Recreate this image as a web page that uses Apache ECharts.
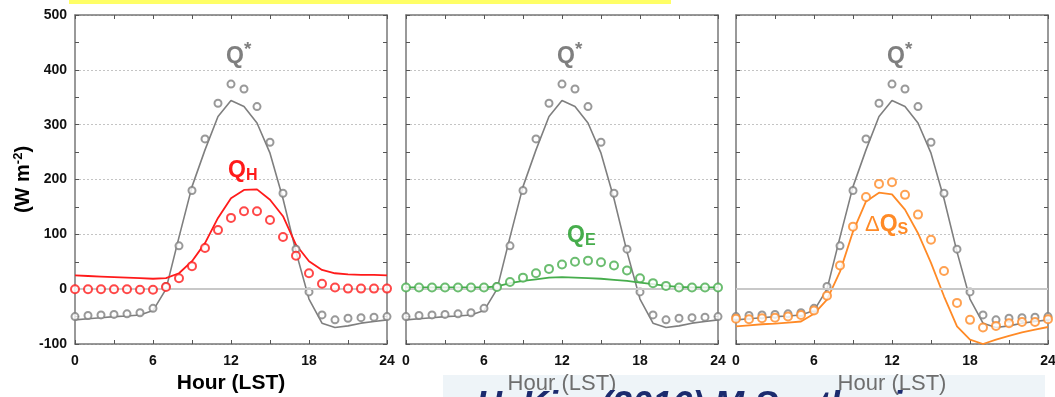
<!DOCTYPE html>
<html>
<head>
<meta charset="utf-8">
<script src="https://cdn.jsdelivr.net/npm/echarts@6/dist/echarts.min.js"></script>
<style>
  html, body { margin: 0; padding: 0; background: #fff; }
  #chart { width: 1055px; height: 397px; }
</style>
</head>
<body>
<div id="chart"></div>
<script>
// hours of the day (LST)
const hours = [0, 1, 2, 3, 4, 5, 6, 7, 8, 9, 10, 11, 12, 13, 14, 15, 16, 17, 18, 19, 20, 21, 22, 23, 24];

// net radiation Q* (same in every panel)
const qStarObs = [-50, -48, -47, -46, -45, -43, -35, 5, 79, 180, 274, 339, 374, 365, 333, 268, 175, 73, -5, -47, -56, -53, -52, -51, -50];
const qStarMod = [-56, -54, -52, -50, -49, -47, -39, 0, 95, 187, 254, 315, 344, 333, 303, 248, 165, 68, -18, -62, -70, -67, -62, -59, -56];

// sensible heat flux QH
const qhObs = [0, 0, 0, 0, 0, -1, -1, 4, 20, 42, 75, 108, 130, 142, 142, 126, 95, 61, 29, 10, 3, 1, 1, 1, 1];
const qhMod = [25, 24, 23, 22, 21, 20, 19, 20, 29, 51, 84, 130, 166, 181, 182, 163, 133, 81, 51, 35, 29, 27, 26, 26, 25];

// latent heat flux QE
const qeObs = [3, 3, 3, 3, 3, 3, 3, 4, 13, 21, 29, 37, 45, 50, 52, 49, 43, 34, 20, 11, 6, 3, 3, 3, 3];
const qeMod = [3, 3, 3, 3, 3, 3, 3, 5, 11, 15, 18, 21, 22, 21, 20, 19, 17, 15, 12, 9, 6, 4, 3, 3, 3];

// storage heat flux dQS
const dqsObs = [-54, -55, -53, -52, -50, -47, -39, -12, 43, 114, 168, 192, 195, 172, 136, 90, 33, -25, -56, -70, -67, -62, -60, -60, -55];
const dqsMod = [-68, -66, -64, -63, -61, -59, -45, -19, 32, 105, 160, 176, 173, 145, 102, 48, -13, -68, -92, -100, -92, -85, -79, -74, -69];

const yTicks = [-100, 0, 100, 200, 300, 400, 500];
const xTicks = [0, 6, 12, 18, 24];

const GREY = '#7f7f7f';
const panelColors = ['#ff1a1a', '#46ad4c', '#ff8a26'];
const panelObs = [qhObs, qeObs, dqsObs];
const panelMod = [qhMod, qeMod, dqsMod];
const lefts = [75, 406, 736];
const FONT = 'Liberation Sans';

function pairs(vals) {
  return hours.map((h, i) => [h, vals[i]]);
}

const chart = echarts.init(document.getElementById('chart'), null, { renderer: 'canvas' });

const grids = [], xAxes = [], yAxes = [], series = [];

lefts.forEach(function (left, i) {
  grids.push({ left: left, top: 15, width: 312, height: 329, outerBoundsMode: 'none' });

  const frameLine = { show: true, onZero: false, lineStyle: { color: '#777', width: 1.5 } };
  const tick = { show: true, inside: true, length: 4, lineStyle: { color: '#555' } };
  const minor = { show: true, splitNumber: 2, length: 4, lineStyle: { color: '#555' } };

  // bottom x axis
  xAxes.push({
    gridIndex: i, type: 'value', position: 'bottom',
    min: xTicks[0], max: xTicks[xTicks.length - 1], interval: 6,
    axisLine: frameLine, axisTick: tick, minorTick: minor,
    splitLine: { show: false },
    axisLabel: { color: '#111', fontFamily: FONT, fontWeight: 'bold', fontSize: 14, margin: 10 },
    name: 'Hour (LST)', nameLocation: 'middle', nameGap: 27,
    nameTextStyle: i === 0
      ? { color: '#000', fontFamily: FONT, fontWeight: 'bold', fontSize: 21 }
      : { color: '#6e6e6e', fontFamily: FONT, fontWeight: 'normal', fontSize: 22 }
  });
  // top x axis (frame)
  xAxes.push({
    gridIndex: i, type: 'value', position: 'top',
    min: 0, max: 24, interval: 6,
    axisLine: frameLine, axisTick: tick, minorTick: minor,
    splitLine: { show: false }, axisLabel: { show: false }
  });

  // left y axis
  yAxes.push({
    gridIndex: i, type: 'value', position: 'left',
    min: yTicks[0], max: yTicks[yTicks.length - 1], interval: 100,
    axisLine: frameLine, axisTick: tick, minorTick: minor,
    splitLine: { show: true, lineStyle: { color: '#c4c4c4', type: [2, 2], width: 1 } },
    axisLabel: { show: i === 0, color: '#111', fontFamily: FONT, fontWeight: 'bold', fontSize: 14, margin: 8 },
    name: i === 0 ? '(W m{sup|-2})' : '',
    nameLocation: 'middle', nameRotate: 90, nameGap: 40,
    nameTextStyle: {
      color: '#000', fontFamily: FONT, fontWeight: 'bold', fontSize: 20,
      rich: { sup: { fontFamily: FONT, fontWeight: 'bold', fontSize: 13, verticalAlign: 'top', padding: [0, 0, 10, 0], color: '#000' } }
    }
  });
  // right y axis (frame)
  yAxes.push({
    gridIndex: i, type: 'value', position: 'right',
    min: -100, max: 500, interval: 100,
    axisLine: frameLine, axisTick: tick, minorTick: minor,
    splitLine: { show: false }, axisLabel: { show: false }
  });

  const xi = i * 2, yi = i * 2;

  // Q* model line, carries the zero line
  series.push({
    type: 'line', xAxisIndex: xi, yAxisIndex: yi, z: 2,
    data: pairs(qStarMod), showSymbol: false,
    lineStyle: { color: GREY, width: 1.6 },
    markLine: {
      silent: true, symbol: 'none', label: { show: false },
      lineStyle: { color: '#c8c8c8', type: 'solid', width: 2 },
      data: [{ yAxis: 0 }]
    },
    animation: false
  });
  // Q* observations
  series.push({
    type: 'scatter', xAxisIndex: xi, yAxisIndex: yi, z: 4,
    data: pairs(qStarObs), symbol: 'emptyCircle', symbolSize: 7,
    itemStyle: { color: GREY, borderWidth: 1.4 }
  });
  // panel flux model line
  series.push({
    type: 'line', xAxisIndex: xi, yAxisIndex: yi, z: 3,
    data: pairs(panelMod[i]), showSymbol: false,
    lineStyle: { color: panelColors[i], width: 1.8 }
  });
  // panel flux observations
  series.push({
    type: 'scatter', xAxisIndex: xi, yAxisIndex: yi, z: 5,
    data: pairs(panelObs[i]), symbol: 'emptyCircle', symbolSize: 8,
    itemStyle: { color: panelColors[i], borderWidth: 1.8 }
  });
});

function qLabel(x, y, color, sub, prefix) {
  return {
    type: 'text', x: x, y: y, z: 20,
    style: {
      text: (prefix ? '{d|\u0394}' : '') + '{q|Q}{s|' + sub + '}',
      rich: {
        d: { fontFamily: FONT, fontSize: 22, fontWeight: 'normal', fill: color, color: color },
        q: { fontFamily: FONT, fontSize: 23, fontWeight: 'bold', fill: color, color: color },
        s: {
          fontFamily: FONT, fontSize: sub === '*' ? 19 : 16, fontWeight: 'bold', fill: color, color: color,
          verticalAlign: sub === '*' ? 'top' : 'bottom',
          padding: sub === '*' ? [0, 0, 14, 0] : [11, 0, 0, 0]
        }
      }
    }
  };
}

chart.setOption({
  backgroundColor: '#fff',
  animation: false,
  grid: grids,
  xAxis: xAxes,
  yAxis: yAxes,
  series: series,
  graphic: [
    { type: 'rect', z: 1, shape: { x: 69, y: 0, width: 602, height: 4 }, style: { fill: '#ffff66' } },
    { type: 'rect', z: -10, shape: { x: 443, y: 375, width: 602, height: 22 }, style: { fill: '#eef4f8' } },
    {
      type: 'text', x: 476, y: 389, z: 30,
      style: { text: 'H. Kim (2016) M.Sc. thesis', font: 'italic bold 36px "Liberation Sans"', fill: '#1c2b6e' }
    },
    qLabel(226, 40, GREY, '*'),
    qLabel(557, 40, GREY, '*'),
    qLabel(887, 40, GREY, '*'),
    qLabel(228, 157, '#ff1a1a', 'H'),
    qLabel(567, 222, '#46ad4c', 'E'),
    qLabel(865, 211, '#ff8a26', 'S', true)
  ]
});
</script>
</body>
</html>
